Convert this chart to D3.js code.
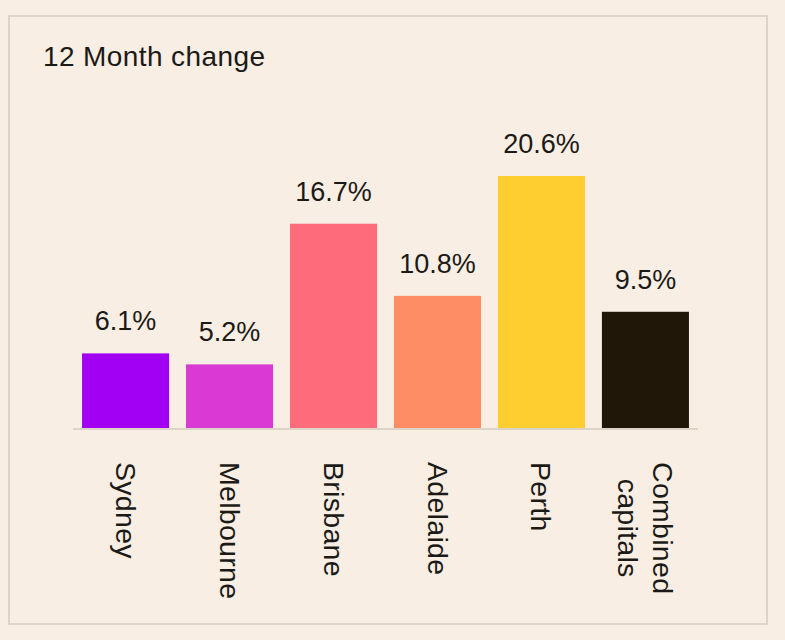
<!DOCTYPE html>
<html>
<head>
<meta charset="utf-8">
<style>
  html, body { margin: 0; padding: 0; background: #f8eee3; }
  svg { display: block; }
  text { font-family: "Liberation Sans", Arial, sans-serif; fill: #1c1a17; }
</style>
</head>
<body>
<svg width="785" height="640"></svg>
<script src="https://d3js.org/d3.v7.min.js"></script>
<script>

var cities = ["Sydney", "Melbourne", "Brisbane", "Adelaide", "Perth", "Combined\ncapitals"];
var change = [6.1, 5.2, 16.7, 10.8, 20.6, 9.5];
var colours = ["#a100f2", "#d83ad3", "#fe6b7b", "#fe8c64", "#fecd30", "#211708"];
var title = "12 Month change";

var svg = d3.select("svg");

// card border
svg.append("rect")
    .attr("x", 9)
    .attr("y", 16)
    .attr("width", 758)
    .attr("height", 608)
    .attr("fill", "#f8eee3")
    .attr("stroke", "#ddd4c8")
    .attr("stroke-width", 2);

svg.append("text")
    .attr("x", 43)
    .attr("y", 66)
    .attr("font-size", 28)
    .attr("letter-spacing", 0.4)
    .text(title);

var data = cities.map(function(c, i) {
  return {city: c, value: change[i], colour: colours[i]};
});

var x = d3.scaleBand()
    .domain(cities)
    .range([73, 698])
    .paddingInner(0.163)
    .paddingOuter(0.087);

var y = d3.scaleLinear()
    .domain([0, 20.6])
    .range([428, 176]);

svg.selectAll(".bar")
  .data(data)
  .enter().append("rect")
    .attr("class", "bar")
    .attr("x", function(d) { return x(d.city); })
    .attr("y", function(d) { return y(d.value); })
    .attr("width", x.bandwidth())
    .attr("height", function(d) { return y(0) - y(d.value); })
    .attr("fill", function(d) { return d.colour; });

svg.selectAll(".value")
  .data(data)
  .enter().append("text")
    .attr("class", "value")
    .attr("x", function(d) { return x(d.city) + x.bandwidth() / 2; })
    .attr("y", function(d) { return y(d.value) - 23; })
    .attr("text-anchor", "middle")
    .attr("font-size", 27)
    .text(function(d) { return d.value.toFixed(1) + "%"; });

// axis line
svg.append("line")
    .attr("x1", 73)
    .attr("x2", 698)
    .attr("y1", y(0) + 1)
    .attr("y2", y(0) + 1)
    .attr("stroke", "#ddd4c8")
    .attr("stroke-width", 2);

// rotated category labels, lines centred on each other
var lineGap = 35, labelTop = 462;
svg.selectAll(".cat")
  .data(data)
  .enter().append("g")
    .attr("class", "cat")
    .each(function(d) {
      var g = d3.select(this),
          lines = d.city.split("\n"),
          cx = x(d.city) + x.bandwidth() / 2;
      var texts = lines.map(function(l, i) {
        return g.append("text")
            .attr("font-size", 28.5)
            .attr("letter-spacing", 0.3)
            .attr("text-anchor", "middle")
            .attr("dy", "0.35em")
            .text(l);
      });
      var maxW = d3.max(texts, function(t) { return t.node().getComputedTextLength(); });
      texts.forEach(function(t, i) {
        var off = ((lines.length - 1) / 2 - i) * lineGap;
        t.attr("transform", "translate(" + (cx + off) + "," + (labelTop + maxW / 2) + ") rotate(90)");
      });
    });

</script>
</body>
</html>
